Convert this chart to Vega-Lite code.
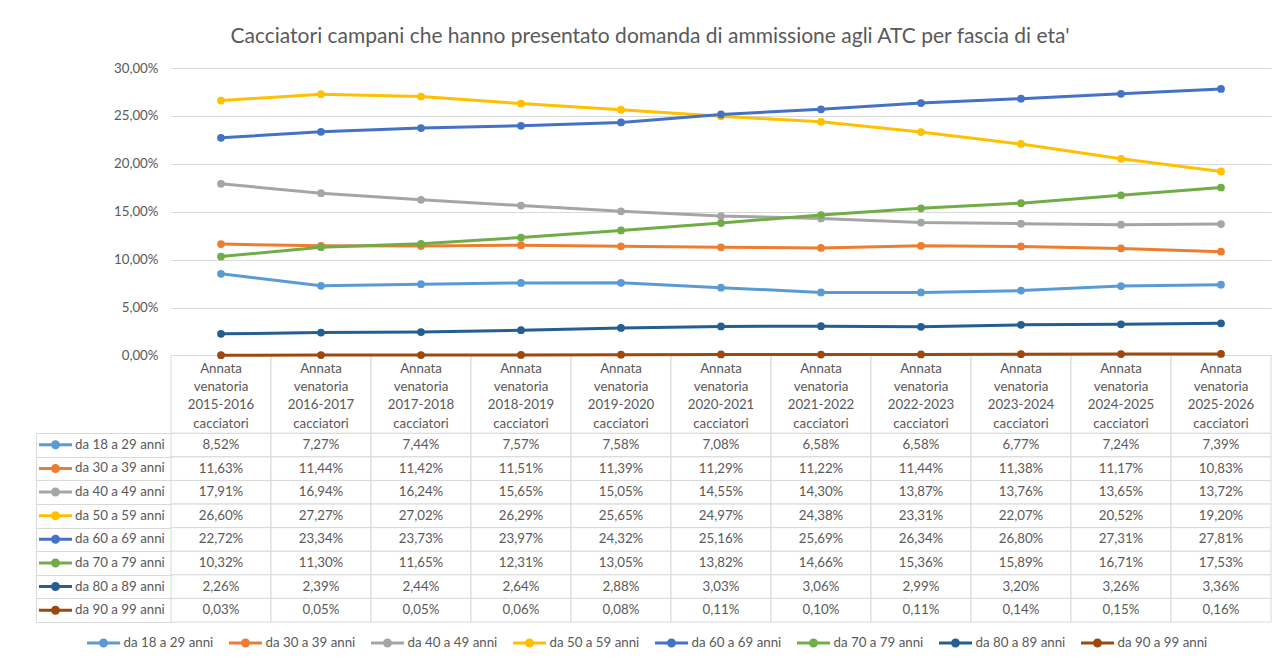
{
  "$schema": "https://vega.github.io/schema/vega-lite/v6.json",
  "width": 1100,
  "height": 554,
  "autosize": {"type": "none"},
  "padding": {"left": 171, "top": 68, "right": 16, "bottom": 44},
  "title": {
    "text": "Cacciatori campani che hanno presentato domanda di ammissione agli ATC per fascia di eta'",
    "fontSize": 21, "fontWeight": "normal", "color": "#595959", "font": "Lato",
    "anchor": "middle", "frame": "group", "dx": -71, "offset": 14
  },
  "data": {"values": [
    {"season": "Annata venatoria 2015-2016 cacciatori", "series": "da 18 a 29 anni", "value": 0.0852},
    {"season": "Annata venatoria 2016-2017 cacciatori", "series": "da 18 a 29 anni", "value": 0.0727},
    {"season": "Annata venatoria 2017-2018 cacciatori", "series": "da 18 a 29 anni", "value": 0.0744},
    {"season": "Annata venatoria 2018-2019 cacciatori", "series": "da 18 a 29 anni", "value": 0.0757},
    {"season": "Annata venatoria 2019-2020 cacciatori", "series": "da 18 a 29 anni", "value": 0.0758},
    {"season": "Annata venatoria 2020-2021 cacciatori", "series": "da 18 a 29 anni", "value": 0.0708},
    {"season": "Annata venatoria 2021-2022 cacciatori", "series": "da 18 a 29 anni", "value": 0.0658},
    {"season": "Annata venatoria 2022-2023 cacciatori", "series": "da 18 a 29 anni", "value": 0.0658},
    {"season": "Annata venatoria 2023-2024 cacciatori", "series": "da 18 a 29 anni", "value": 0.0677},
    {"season": "Annata venatoria 2024-2025 cacciatori", "series": "da 18 a 29 anni", "value": 0.0724},
    {"season": "Annata venatoria 2025-2026 cacciatori", "series": "da 18 a 29 anni", "value": 0.0739},
    {"season": "Annata venatoria 2015-2016 cacciatori", "series": "da 30 a 39 anni", "value": 0.1163},
    {"season": "Annata venatoria 2016-2017 cacciatori", "series": "da 30 a 39 anni", "value": 0.1144},
    {"season": "Annata venatoria 2017-2018 cacciatori", "series": "da 30 a 39 anni", "value": 0.1142},
    {"season": "Annata venatoria 2018-2019 cacciatori", "series": "da 30 a 39 anni", "value": 0.1151},
    {"season": "Annata venatoria 2019-2020 cacciatori", "series": "da 30 a 39 anni", "value": 0.1139},
    {"season": "Annata venatoria 2020-2021 cacciatori", "series": "da 30 a 39 anni", "value": 0.1129},
    {"season": "Annata venatoria 2021-2022 cacciatori", "series": "da 30 a 39 anni", "value": 0.1122},
    {"season": "Annata venatoria 2022-2023 cacciatori", "series": "da 30 a 39 anni", "value": 0.1144},
    {"season": "Annata venatoria 2023-2024 cacciatori", "series": "da 30 a 39 anni", "value": 0.1138},
    {"season": "Annata venatoria 2024-2025 cacciatori", "series": "da 30 a 39 anni", "value": 0.1117},
    {"season": "Annata venatoria 2025-2026 cacciatori", "series": "da 30 a 39 anni", "value": 0.1083},
    {"season": "Annata venatoria 2015-2016 cacciatori", "series": "da 40 a 49 anni", "value": 0.1791},
    {"season": "Annata venatoria 2016-2017 cacciatori", "series": "da 40 a 49 anni", "value": 0.1694},
    {"season": "Annata venatoria 2017-2018 cacciatori", "series": "da 40 a 49 anni", "value": 0.1624},
    {"season": "Annata venatoria 2018-2019 cacciatori", "series": "da 40 a 49 anni", "value": 0.1565},
    {"season": "Annata venatoria 2019-2020 cacciatori", "series": "da 40 a 49 anni", "value": 0.1505},
    {"season": "Annata venatoria 2020-2021 cacciatori", "series": "da 40 a 49 anni", "value": 0.1455},
    {"season": "Annata venatoria 2021-2022 cacciatori", "series": "da 40 a 49 anni", "value": 0.1430},
    {"season": "Annata venatoria 2022-2023 cacciatori", "series": "da 40 a 49 anni", "value": 0.1387},
    {"season": "Annata venatoria 2023-2024 cacciatori", "series": "da 40 a 49 anni", "value": 0.1376},
    {"season": "Annata venatoria 2024-2025 cacciatori", "series": "da 40 a 49 anni", "value": 0.1365},
    {"season": "Annata venatoria 2025-2026 cacciatori", "series": "da 40 a 49 anni", "value": 0.1372},
    {"season": "Annata venatoria 2015-2016 cacciatori", "series": "da 50 a 59 anni", "value": 0.2660},
    {"season": "Annata venatoria 2016-2017 cacciatori", "series": "da 50 a 59 anni", "value": 0.2727},
    {"season": "Annata venatoria 2017-2018 cacciatori", "series": "da 50 a 59 anni", "value": 0.2702},
    {"season": "Annata venatoria 2018-2019 cacciatori", "series": "da 50 a 59 anni", "value": 0.2629},
    {"season": "Annata venatoria 2019-2020 cacciatori", "series": "da 50 a 59 anni", "value": 0.2565},
    {"season": "Annata venatoria 2020-2021 cacciatori", "series": "da 50 a 59 anni", "value": 0.2497},
    {"season": "Annata venatoria 2021-2022 cacciatori", "series": "da 50 a 59 anni", "value": 0.2438},
    {"season": "Annata venatoria 2022-2023 cacciatori", "series": "da 50 a 59 anni", "value": 0.2331},
    {"season": "Annata venatoria 2023-2024 cacciatori", "series": "da 50 a 59 anni", "value": 0.2207},
    {"season": "Annata venatoria 2024-2025 cacciatori", "series": "da 50 a 59 anni", "value": 0.2052},
    {"season": "Annata venatoria 2025-2026 cacciatori", "series": "da 50 a 59 anni", "value": 0.1920},
    {"season": "Annata venatoria 2015-2016 cacciatori", "series": "da 60 a 69 anni", "value": 0.2272},
    {"season": "Annata venatoria 2016-2017 cacciatori", "series": "da 60 a 69 anni", "value": 0.2334},
    {"season": "Annata venatoria 2017-2018 cacciatori", "series": "da 60 a 69 anni", "value": 0.2373},
    {"season": "Annata venatoria 2018-2019 cacciatori", "series": "da 60 a 69 anni", "value": 0.2397},
    {"season": "Annata venatoria 2019-2020 cacciatori", "series": "da 60 a 69 anni", "value": 0.2432},
    {"season": "Annata venatoria 2020-2021 cacciatori", "series": "da 60 a 69 anni", "value": 0.2516},
    {"season": "Annata venatoria 2021-2022 cacciatori", "series": "da 60 a 69 anni", "value": 0.2569},
    {"season": "Annata venatoria 2022-2023 cacciatori", "series": "da 60 a 69 anni", "value": 0.2634},
    {"season": "Annata venatoria 2023-2024 cacciatori", "series": "da 60 a 69 anni", "value": 0.2680},
    {"season": "Annata venatoria 2024-2025 cacciatori", "series": "da 60 a 69 anni", "value": 0.2731},
    {"season": "Annata venatoria 2025-2026 cacciatori", "series": "da 60 a 69 anni", "value": 0.2781},
    {"season": "Annata venatoria 2015-2016 cacciatori", "series": "da 70 a 79 anni", "value": 0.1032},
    {"season": "Annata venatoria 2016-2017 cacciatori", "series": "da 70 a 79 anni", "value": 0.1130},
    {"season": "Annata venatoria 2017-2018 cacciatori", "series": "da 70 a 79 anni", "value": 0.1165},
    {"season": "Annata venatoria 2018-2019 cacciatori", "series": "da 70 a 79 anni", "value": 0.1231},
    {"season": "Annata venatoria 2019-2020 cacciatori", "series": "da 70 a 79 anni", "value": 0.1305},
    {"season": "Annata venatoria 2020-2021 cacciatori", "series": "da 70 a 79 anni", "value": 0.1382},
    {"season": "Annata venatoria 2021-2022 cacciatori", "series": "da 70 a 79 anni", "value": 0.1466},
    {"season": "Annata venatoria 2022-2023 cacciatori", "series": "da 70 a 79 anni", "value": 0.1536},
    {"season": "Annata venatoria 2023-2024 cacciatori", "series": "da 70 a 79 anni", "value": 0.1589},
    {"season": "Annata venatoria 2024-2025 cacciatori", "series": "da 70 a 79 anni", "value": 0.1671},
    {"season": "Annata venatoria 2025-2026 cacciatori", "series": "da 70 a 79 anni", "value": 0.1753},
    {"season": "Annata venatoria 2015-2016 cacciatori", "series": "da 80 a 89 anni", "value": 0.0226},
    {"season": "Annata venatoria 2016-2017 cacciatori", "series": "da 80 a 89 anni", "value": 0.0239},
    {"season": "Annata venatoria 2017-2018 cacciatori", "series": "da 80 a 89 anni", "value": 0.0244},
    {"season": "Annata venatoria 2018-2019 cacciatori", "series": "da 80 a 89 anni", "value": 0.0264},
    {"season": "Annata venatoria 2019-2020 cacciatori", "series": "da 80 a 89 anni", "value": 0.0288},
    {"season": "Annata venatoria 2020-2021 cacciatori", "series": "da 80 a 89 anni", "value": 0.0303},
    {"season": "Annata venatoria 2021-2022 cacciatori", "series": "da 80 a 89 anni", "value": 0.0306},
    {"season": "Annata venatoria 2022-2023 cacciatori", "series": "da 80 a 89 anni", "value": 0.0299},
    {"season": "Annata venatoria 2023-2024 cacciatori", "series": "da 80 a 89 anni", "value": 0.0320},
    {"season": "Annata venatoria 2024-2025 cacciatori", "series": "da 80 a 89 anni", "value": 0.0326},
    {"season": "Annata venatoria 2025-2026 cacciatori", "series": "da 80 a 89 anni", "value": 0.0336},
    {"season": "Annata venatoria 2015-2016 cacciatori", "series": "da 90 a 99 anni", "value": 0.0003},
    {"season": "Annata venatoria 2016-2017 cacciatori", "series": "da 90 a 99 anni", "value": 0.0005},
    {"season": "Annata venatoria 2017-2018 cacciatori", "series": "da 90 a 99 anni", "value": 0.0005},
    {"season": "Annata venatoria 2018-2019 cacciatori", "series": "da 90 a 99 anni", "value": 0.0006},
    {"season": "Annata venatoria 2019-2020 cacciatori", "series": "da 90 a 99 anni", "value": 0.0008},
    {"season": "Annata venatoria 2020-2021 cacciatori", "series": "da 90 a 99 anni", "value": 0.0011},
    {"season": "Annata venatoria 2021-2022 cacciatori", "series": "da 90 a 99 anni", "value": 0.0010},
    {"season": "Annata venatoria 2022-2023 cacciatori", "series": "da 90 a 99 anni", "value": 0.0011},
    {"season": "Annata venatoria 2023-2024 cacciatori", "series": "da 90 a 99 anni", "value": 0.0014},
    {"season": "Annata venatoria 2024-2025 cacciatori", "series": "da 90 a 99 anni", "value": 0.0015},
    {"season": "Annata venatoria 2025-2026 cacciatori", "series": "da 90 a 99 anni", "value": 0.0016}
  ]},
  "layer": [
    {
      "transform": [{"filter": "datum.series == 'da 18 a 29 anni'"}],
      "encoding": {
        "x": {"field": "season", "type": "nominal", "scale": {"type": "band", "paddingInner": 0, "paddingOuter": 0}, "axis": null},
        "y": {"datum": "intestazione", "type": "nominal", "scale": {"type": "band", "domain": ["intestazione"], "range": [287.5, 365.3], "paddingInner": 0, "paddingOuter": 0}, "axis": null}
      },
      "layer": [
        {"mark": {"type": "rect", "fill": "#ffffff", "stroke": "#d9d9d9", "strokeWidth": 1}},
        {"mark": {"type": "text", "lineBreak": " ", "lineHeight": 18.3, "fontSize": 13.3, "color": "#595959", "align": "center", "baseline": "middle", "dy": -25.5},
         "encoding": {"text": {"field": "season", "type": "nominal"}}}
      ]
    },
    {
      "encoding": {
        "x": {"field": "season", "type": "nominal", "axis": null},
        "y": {"field": "series", "type": "nominal",
              "scale": {"type": "band", "domain": ["da 18 a 29 anni", "da 30 a 39 anni", "da 40 a 49 anni", "da 50 a 59 anni", "da 60 a 69 anni", "da 70 a 79 anni", "da 80 a 89 anni", "da 90 a 99 anni"], "range": [365.3, 554], "paddingInner": 0, "paddingOuter": 0},
              "axis": {"orient": "left", "offset": 135, "title": null, "labels": false, "domain": true, "domainColor": "#d9d9d9", "domainWidth": 1, "ticks": true, "tickBand": "extent", "tickSize": -135, "tickColor": "#d9d9d9", "tickWidth": 1, "grid": false}}
      },
      "layer": [
        {"mark": {"type": "rect", "fill": "#ffffff", "stroke": "#d9d9d9", "strokeWidth": 1}},
        {"mark": {"type": "text", "fontSize": 13.3, "color": "#595959", "align": "center", "baseline": "middle"},
         "encoding": {"text": {"field": "value", "type": "quantitative", "format": ".2%"}}}
      ]
    },
    {
      "encoding": {
        "x": {"field": "season", "type": "nominal", "bandPosition": 0.5, "axis": null},
        "y": {"field": "value", "type": "quantitative",
              "scale": {"domain": [-0.2781, 0.30], "nice": false, "zero": false},
              "axis": {"orient": "left", "values": [0, 0.05, 0.1, 0.15, 0.2, 0.25, 0.3], "format": ".2%", "grid": true, "gridColor": "#d9d9d9", "gridWidth": 1, "domain": false, "ticks": false, "labelPadding": 13, "labelFontSize": 13.3, "labelColor": "#595959", "title": null}}
      },
      "layer": [
        {"mark": {"type": "line", "strokeWidth": 3},
         "encoding": {"stroke": {"field": "series", "type": "nominal",
            "scale": {"domain": ["da 18 a 29 anni", "da 30 a 39 anni", "da 40 a 49 anni", "da 50 a 59 anni", "da 60 a 69 anni", "da 70 a 79 anni", "da 80 a 89 anni", "da 90 a 99 anni"], "range": ["#5B9BD5", "#ED7D31", "#A5A5A5", "#FFC000", "#4472C4", "#70AD47", "#255E91", "#9E480E"]},
            "legend": {"orient": "none", "legendX": -84, "legendY": 567, "direction": "horizontal", "title": null, "padding": 0,
              "symbolType": "M-1,-0.091L1,-0.091L1,0.091L-1,0.091Z M0.273,0A0.273,0.273,0,1,1,-0.273,0A0.273,0.273,0,1,1,0.273,0Z",
              "symbolSize": 1089, "symbolStrokeWidth": 0, "clipHeight": 16, "labelOffset": 3.5, "columnPadding": 15,
              "labelFont": "Lato", "labelFontSize": 13.3, "labelColor": "#595959",
              "encode": {"symbols": {"update": {"fill": {"scale": "stroke", "field": "value"}, "stroke": {"value": "transparent"}, "opacity": {"value": 1}}}}}}}},
        {"mark": {"type": "point", "filled": true, "size": 60, "shape": "circle", "opacity": 1},
         "encoding": {"fill": {"field": "series", "type": "nominal",
            "scale": {"range": ["#5B9BD5", "#ED7D31", "#A5A5A5", "#FFC000", "#4472C4", "#70AD47", "#255E91", "#9E480E"]},
            "legend": {"orient": "none", "legendX": -132, "legendY": 368.8, "direction": "vertical", "title": null, "padding": 0,
              "symbolType": "M-1,-0.091L1,-0.091L1,0.091L-1,0.091Z M0.273,0A0.273,0.273,0,1,1,-0.273,0A0.273,0.273,0,1,1,0.273,0Z",
              "symbolSize": 1089, "symbolStrokeWidth": 0, "clipHeight": 16, "rowPadding": 7.625, "labelOffset": 3,
              "labelFont": "Lato", "labelFontSize": 13.3, "labelColor": "#595959",
              "encode": {"symbols": {"update": {"fill": {"scale": "fill", "field": "value"}, "stroke": {"value": "transparent"}, "opacity": {"value": 1}}}}}}}}
      ]
    }
  ],
  "resolve": {"scale": {"y": "independent"}, "axis": {"y": "independent"}},
  "config": {
    "font": "Lato",
    "locale": {"number": {"decimal": ",", "thousands": ".", "grouping": [3], "currency": ["€", ""]}},
    "view": {"stroke": null},
    "axis": {"labelFont": "Lato"}
  }
}
